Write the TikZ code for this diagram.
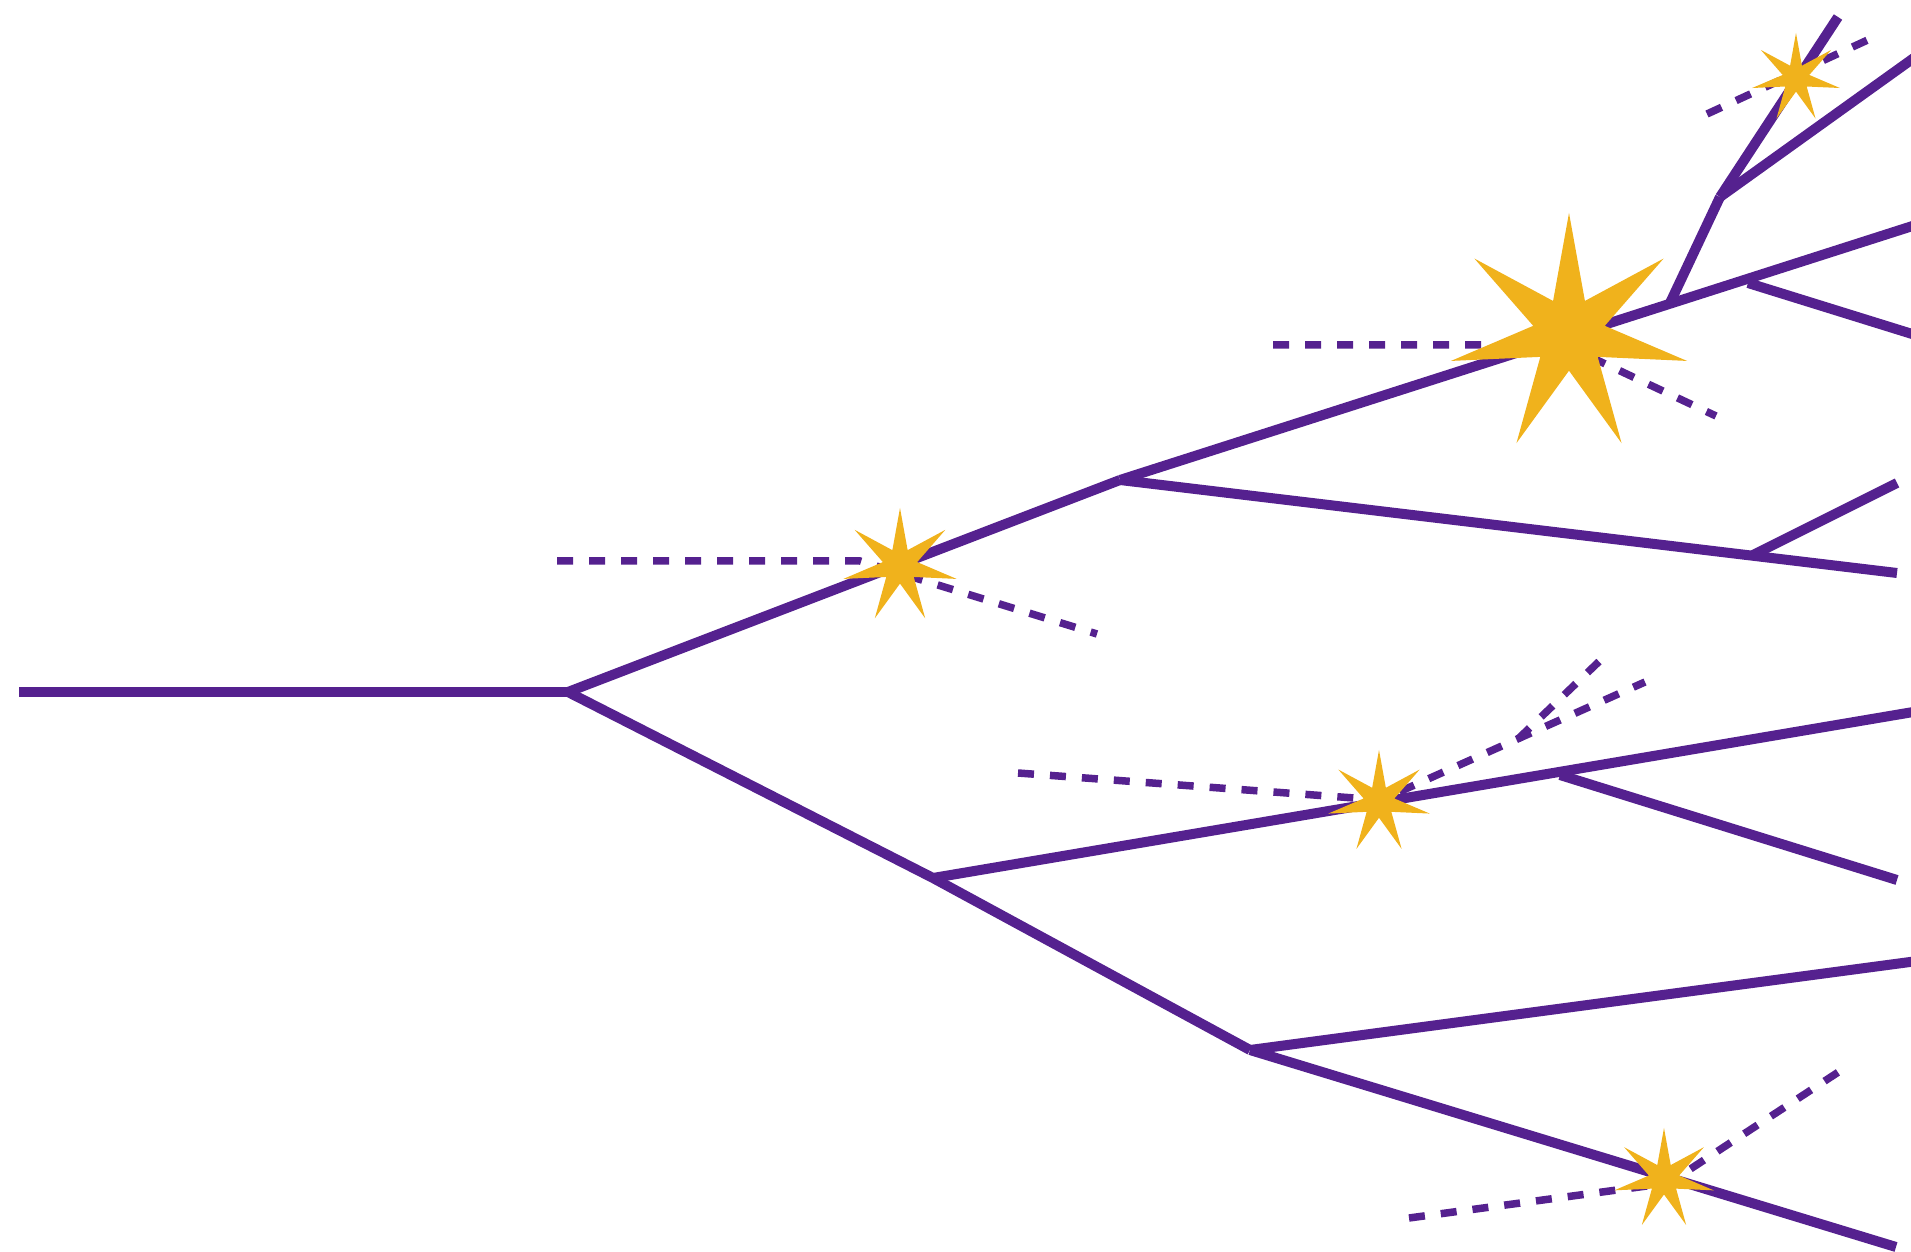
\documentclass[tikz,border=0pt]{standalone}
\usetikzlibrary{shapes.geometric}
\definecolor{prp}{HTML}{55218F}
\definecolor{gld}{HTML}{F0B21C}

\begin{document}
\begin{tikzpicture}[
  x=0.01cm, y=-0.01cm,
  stem/.style={prp, line width=0.1cm},
  ray/.style={prp, line width=0.075cm, dash pattern=on 0.16cm off 0.16cm},
  flash/.style={star, star points=7, star point ratio=3.3, fill=gld, draw=none, inner sep=0pt}
]
\clip (0,0) rectangle (1911,1252);
% ---------------------------------------------------------------- vertices
\coordinate (root) at (19,692);
\coordinate (a) at (568,692);
\coordinate (b) at (1120,480);
\coordinate (c) at (1250,1050);
\coordinate (d) at (933,878);
\coordinate (j1) at (1720,197);
\coordinate (j2) at (1670,303);
\coordinate (j3) at (1748,283);
\coordinate (j4) at (1753,555);
\coordinate (j5) at (1560,775);
% ends
\coordinate (t1) at (1925,222);
\coordinate (t2) at (1838,17);
\coordinate (t3) at (1925,50);
\coordinate (t4) at (1925,338);
\coordinate (t5) at (1925,710);
\coordinate (t6) at (1925,960);
\coordinate (e1) at (1897,573);
\coordinate (e2) at (1897,483);
\coordinate (e3) at (1897,880);
\coordinate (e4) at (1896,1247);

% ---------------------------------------------------------------- solid lines
\draw[stem] (root) -- (a);
\draw[stem] (a) -- (b);
\draw[stem] (b) -- (t1);
\draw[stem] (j2) -- (j1);
\draw[stem] (j1) -- (t2);
\draw[stem] (j1) -- (t3);
\draw[stem] (j3) -- (t4);
\draw[stem] (b) -- (e1);
\draw[stem] (j4) -- (e2);
\draw[stem] (a) -- (d) -- (c);
\draw[stem] (d) -- (t5);
\draw[stem] (j5) -- (e3);
\draw[stem] (c) -- (t6);
\draw[stem] (c) -- (e4);

% ---------------------------------------------------------------- dashed
\coordinate (v1) at (1565,345);
\coordinate (v2) at (860,561);
\coordinate (v3) at (1381,800);
\coordinate (v4) at (1669,1183);
\coordinate (v5) at (1796,73);
\coordinate (f3) at (1518,739);
\draw[ray] (1273,345) coordinate (p1) -- (v1) -- (1716,416) coordinate (q1);
\draw[ray] (557,561) coordinate (p2) -- (v2) -- (1097,634) coordinate (q2);
\draw[ray] (1018,773) coordinate (p3) -- (v3) -- (1645,682) coordinate (q3);
\draw[ray] (f3) -- (1609,652) coordinate (r3);
\draw[ray] (1409,1218) coordinate (p4) -- (v4) -- (1840,1071) coordinate (q4);
\draw[ray] (1707,114) coordinate (p5) -- (v5) -- (1872,38) coordinate (q5);

% ---------------------------------------------------------------- stars
\node[flash, minimum size=2.42cm] (s1) at (1569,334) {};
\node[flash, minimum size=1.16cm] (s2) at (900,566) {};
\node[flash, minimum size=1.04cm] (s3) at (1379,802) {};
\node[flash, minimum size=1.02cm] (s4) at (1664,1179) {};
\node[flash, minimum size=0.90cm] (s5) at (1796,78) {};
\end{tikzpicture}
\end{document}
